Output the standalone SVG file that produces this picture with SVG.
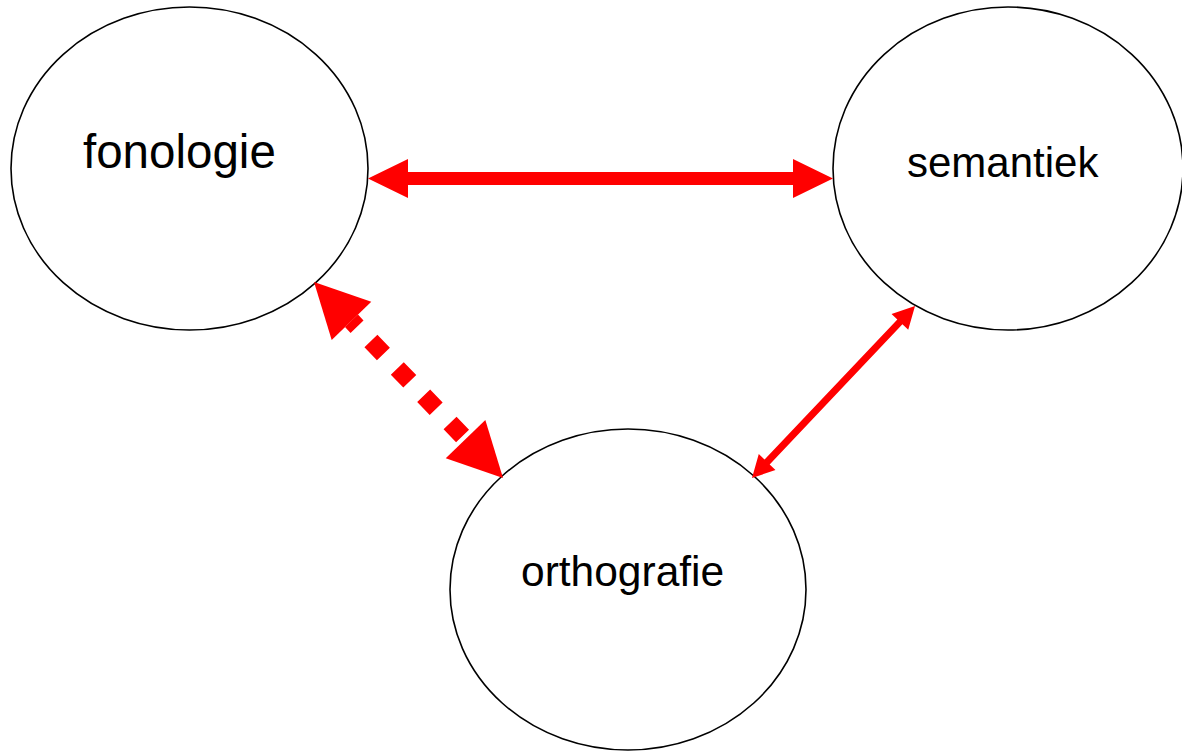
<svg xmlns="http://www.w3.org/2000/svg" width="1182" height="751" viewBox="0 0 1182 751">
<style>
.node ellipse{fill:#fff;stroke:#000;stroke-width:1.6}
.node text{font-family:"Liberation Sans",Arial,sans-serif;fill:#000}
.arrow{fill:#ff0000;stroke:none}
.dash{stroke:#ff0000;stroke-width:18;fill:none;stroke-dasharray:18 20;stroke-dashoffset:10}
</style>
<rect width="1182" height="751" fill="#fff"/>
<g id="fonologie" class="node">
<ellipse cx="189.5" cy="168.5" rx="178.5" ry="161.5"/>
<text x="83" y="168" font-size="47.5">fonologie</text>
</g>
<g id="semantiek" class="node">
<ellipse cx="1008" cy="168.5" rx="175" ry="161.5"/>
<text x="907" y="177" font-size="42">semantiek</text>
</g>
<g id="orthografie" class="node">
<ellipse cx="628" cy="589.5" rx="178" ry="160.5"/>
<text x="521" y="586" font-size="42.5">orthografie</text>
</g>
<g id="connectors">
<polygon class="arrow" points="368,178.5 408,159 408,172 793,172 793,159 833,178.5 793,198 793,185 408,185 408,198"/>
<g transform="translate(752,478) rotate(-46.54)">
<polygon class="arrow" points="0,0 22,-11.5 22,-3.5 215,-3.5 215,-11.5 237,0 215,11.5 215,3.5 22,3.5 22,11.5"/>
</g>
<g transform="translate(314,282) rotate(46.04)">
<polygon class="arrow" points="0,0 54,-27.5 54,27.5"/>
<polygon class="arrow" points="272.3,0 218.3,-27.5 218.3,27.5"/>
<line class="dash" x1="54" y1="0" x2="218.3" y2="0"/>
</g>
</g>
</svg>
